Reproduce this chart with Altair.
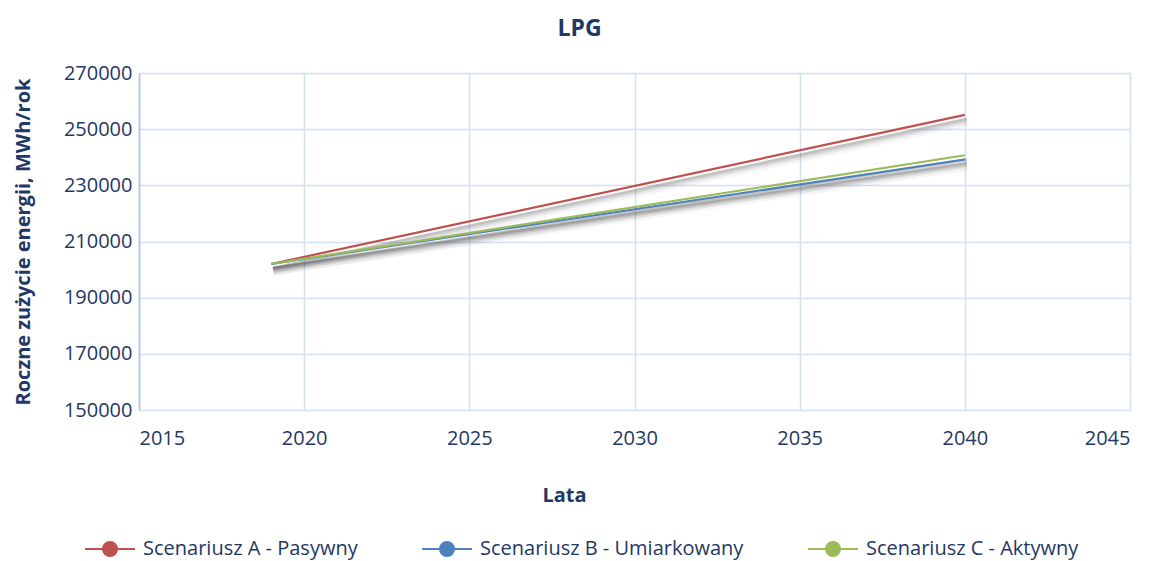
import altair as alt
import pandas as pd

years = [2019, 2040]
scenarios = ["Scenariusz A - Pasywny", "Scenariusz B - Umiarkowany", "Scenariusz C - Aktywny"]
values_a = [202000, 255100]
values_b = [202000, 239200]
values_c = [202000, 240700]
colors = ["#C0504D", "#4F81BD", "#9BBB59"]

rows = []
for s, vals in zip(scenarios, [values_a, values_b, values_c]):
    for y, v in zip(years, vals):
        rows.append({"Rok": y, "Wartosc": v, "Scenariusz": s})
df = pd.DataFrame(rows)

txt = "#1F3864"
font = "Open Sans"

xscale = alt.Scale(domain=[2015, 2045], nice=False, zero=False)
yscale = alt.Scale(domain=[150000, 270000], nice=False, zero=False)

base = alt.Chart(df)

shadows = []
for off, w, op in [(7, 9, 0.05), (6, 6, 0.08), (5, 4, 0.12), (4, 2.5, 0.15)]:
    shadows.append(
        base.mark_line(color="#505050", strokeWidth=w, opacity=op, yOffset=off, xOffset=2).encode(
            x=alt.X("Rok:Q", scale=xscale),
            y=alt.Y("Wartosc:Q", scale=yscale),
            detail="Scenariusz:N",
        )
    )

cscale = alt.Scale(domain=scenarios, range=colors)
lines = base.mark_line(strokeWidth=2.2).encode(
    x=alt.X(
        "Rok:Q",
        scale=xscale,
        axis=alt.Axis(
            title="Lata",
            values=[2015, 2020, 2025, 2030, 2035, 2040, 2045],
            format="d",
            labelFontSize=20,
            labelColor=txt,
            labelFont=font,
            labelPadding=18,
            ticks=False,
            domain=False,
            grid=True,
            gridColor="#D3E0F2",
            gridWidth=1.5,
            titleFontSize=20,
            titleFont=font,
            titleColor=txt,
            titleFontWeight="bold",
            titleX=425,
            titleY=75,
        ),
    ),
    y=alt.Y(
        "Wartosc:Q",
        scale=yscale,
        axis=alt.Axis(
            title="Roczne zużycie energii, MWh/rok",
            values=[150000, 170000, 190000, 210000, 230000, 250000, 270000],
            format="d",
            labelFontSize=20,
            labelColor=txt,
            labelFont=font,
            labelPadding=7,
            ticks=False,
            domain=True,
            domainColor="#A9C3E6",
            domainWidth=1.5,
            grid=True,
            gridColor="#D3E0F2",
            gridWidth=1.5,
            titleFontSize=20,
            titleFont=font,
            titleColor=txt,
            titleFontWeight="bold",
            titlePadding=30,
        ),
    ),
    color=alt.Color("Scenariusz:N", scale=cscale, sort=scenarios,
                    legend=alt.Legend(
                        title=None,
                        orient="none",
                        direction="horizontal",
                        legendX=-55,
                        legendY=450,
                        labelFontSize=20,
                        labelFont=font,
                        labelColor=txt,
                        labelLimit=500,
                        columnPadding=60,
                        labelOffset=7,
                        symbolType="M-1,0L1,0M-0.28,0A0.28,0.28,0,1,0,0.28,0A0.28,0.28,0,1,0,-0.28,0Z",
                        symbolSize=2500,
                        symbolStrokeWidth=2,
                    )),
    fill=alt.Fill("Scenariusz:N", scale=cscale, sort=scenarios, legend=None),
)

chart = alt.layer(*shadows, lines).properties(
    width=991,
    height=337,
    title=alt.TitleParams("LPG", fontSize=23, font=font, fontWeight="bold", color=txt, dx=-55, offset=22),
    autosize=alt.AutoSizeParams(type="none"),
    padding={"left": 131, "top": 65, "right": 20, "bottom": 150},
).configure_view(stroke=None)

chart.save("out.html", embed_options={"renderer": "svg", "actions": False})
